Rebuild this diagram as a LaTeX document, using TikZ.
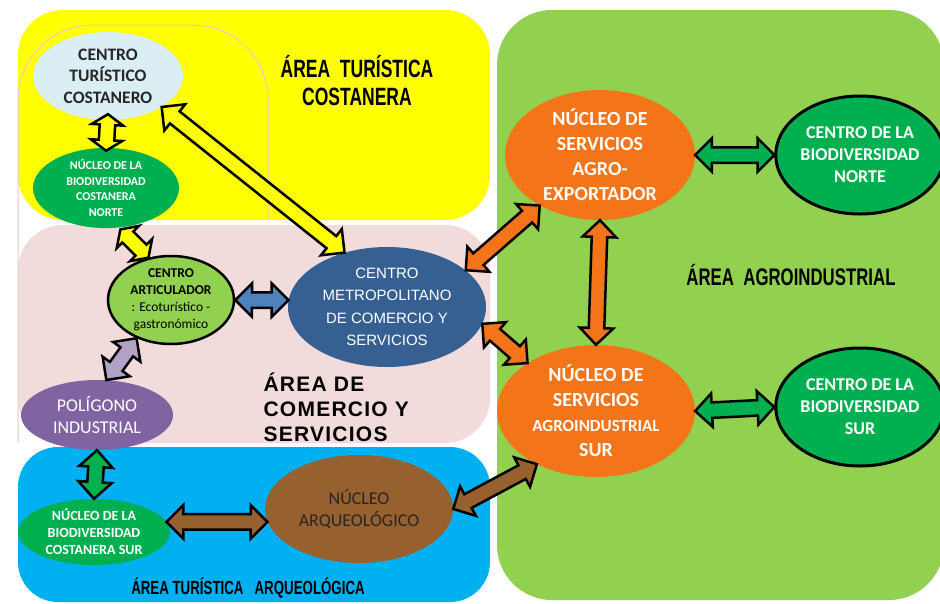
\documentclass[tikz,border=0pt]{standalone}
\usepackage{fontspec}
\setmainfont{Carlito}
\newfontfamily\arialfont{Liberation Sans}
\newfontfamily\areafont[FakeStretch=0.7]{Liberation Sans}
\newfontfamily\widefont[LetterSpace=6]{Liberation Sans}
\usetikzlibrary{shapes.geometric,shapes.arrows,calc}

\definecolor{areayellow}{HTML}{FFFF00}
\definecolor{areapink}{HTML}{F2DCDB}
\definecolor{areablue}{HTML}{00B0F0}
\definecolor{areagreen}{HTML}{92D050}
\definecolor{lineapink}{HTML}{EBC8C7}
\definecolor{palecyan}{HTML}{DAEEF3}
\definecolor{biogreen}{HTML}{00B050}
\definecolor{metroblue}{HTML}{376092}
\definecolor{polypurple}{HTML}{8064A2}
\definecolor{arqbrown}{HTML}{97602F}
\definecolor{agroorange}{HTML}{F4741A}
\definecolor{linkblue}{HTML}{4F81BD}
\definecolor{linklilac}{HTML}{B3A2C7}
\definecolor{darktext}{HTML}{262626}

% double block arrow from #3 to #4, filled with #2
\newcommand{\linkarrow}[4][]{%
  \path let \p1=(#3), \p2=(#4), \n1={atan2(\y2-\y1,\x2-\x1)},
    \n2={veclen(\x2-\x1,\y2-\y1)} in
    node[linkarrow, #1, fill=#2, minimum height=\n2, rotate=\n1] at ($(\p1)!0.5!(\p2)$) {};}

\begin{document}
\begin{tikzpicture}[x=1pt, y=-1pt]
\tikzset{place/.style={shape=ellipse, inner sep=0pt, align=center}}
\tikzset{arealabel/.style={align=center, text=black, font=\areafont\bfseries}}
\tikzset{linkarrow/.style={shape=double arrow, draw=black, line width=2.5pt, inner xsep=0pt,
  inner ysep=6.5pt, double arrow head extend=9pt, double arrow head indent=0pt,
  double arrow tip angle=90}}
\tikzset{shortlink/.style={double arrow head extend=8pt, double arrow tip angle=112}}
\useasboundingbox[fill=white] (0,0) rectangle (940,603);
%  areas
\fill[areapink, rounded corners=45] (18,225) rectangle (490,443);
\fill[areayellow, rounded corners=45] (18,10) rectangle (490,220);
\fill[areablue, rounded corners=40] (18,447) rectangle (490,602);
\fill[areagreen, rounded corners=55] (497,10) rectangle (944,600);
\draw[lineapink, line width=1pt, rounded corners=75] (18,443) -- (18,25) -- (268,25) -- (268,220);
\node (tcl) [arealabel, font=\areafont\bfseries\fontsize{25}{28}\selectfont] at (357,81) {ÁREA~~TURÍSTICA\\COSTANERA};
\node (agl) [arealabel, font=\areafont\bfseries\fontsize{24}{26}\selectfont] at (791,275) {ÁREA~~AGROINDUSTRIAL};
\node (arl) [arealabel, font=\areafont\bfseries\fontsize{19}{20}\selectfont] at (248,588) {ÁREA~TURÍSTICA~~~ARQUEOLÓGICA};
\node (csl) [align=left, anchor=west, text=black, font=\widefont\bfseries\fontsize{21}{25}\selectfont]
  at (260,407) {ÁREA DE\\COMERCIO Y\\SERVICIOS};
%  costanera
\node (ctc) [place, fill=palecyan, minimum width=150, minimum height=88, text=darktext,
  font=\bfseries\fontsize{17.5}{21.5}\selectfont] at (108,76) {CENTRO\\TURÍSTICO\\COSTANERO};
\node (nbn) [place, fill=biogreen, minimum width=146, minimum height=72, text=white,
  font=\bfseries\fontsize{12}{15.5}\selectfont] at (106,188) {NÚCLEO DE LA\\BIODIVERSIDAD\\COSTANERA\\NORTE};
%  comercio y servicios
\node (ca) [place, fill=areagreen, draw=black, line width=2.5pt, minimum width=126, minimum height=88,
  font=\fontsize{13.5}{17}\selectfont] at (171,300)
  {\textbf{CENTRO}\\\textbf{ARTICULADOR}\\: Ecoturístico -\\gastronómico};
\node (cmc) [place, fill=metroblue, minimum width=198, minimum height=120, text=white,
  font=\arialfont\fontsize{15}{22.5}\selectfont] at (387,307) {CENTRO\\METROPOLITANO\\DE COMERCIO Y\\SERVICIOS};
\node (pi) [place, fill=polypurple, minimum width=152, minimum height=70, text=white,
  font=\fontsize{18}{22}\selectfont] at (97,415) {POLÍGONO\\INDUSTRIAL};
%  arqueologica
\node (nbcs) [place, fill=biogreen, minimum width=152, minimum height=66, text=white,
  font=\bfseries\fontsize{14}{17}\selectfont] at (94,532) {NÚCLEO DE LA\\BIODIVERSIDAD\\COSTANERA SUR};
\node (na) [place, fill=arqbrown, minimum width=188, minimum height=108, text=darktext,
  font=\fontsize{18}{22}\selectfont] at (359,509) {NÚCLEO\\ARQUEOLÓGICO};
%  agroindustrial
\node (nsae) [place, fill=agroorange, minimum width=190, minimum height=128, text=white,
  font=\bfseries\fontsize{20}{25}\selectfont] at (600,155) {NÚCLEO DE\\SERVICIOS\\AGRO-\\EXPORTADOR};
\node (nsai) [place, fill=agroorange, minimum width=198, minimum height=132, text=white,
  font=\bfseries\fontsize{20}{25}\selectfont] at (596,411)
  {NÚCLEO DE\\SERVICIOS\\{\fontsize{17}{25}\selectfont AGROINDUSTRIAL}\\SUR};
\node (cbn) [place, fill=biogreen, draw=black, line width=3pt, minimum width=156, minimum height=118,
  text=white, font=\bfseries\fontsize{18}{22}\selectfont] at (860,155) {CENTRO DE LA\\BIODIVERSIDAD\\NORTE};
\node (cbs) [place, fill=biogreen, draw=black, line width=3pt, minimum width=156, minimum height=118,
  text=white, font=\bfseries\fontsize{18}{22}\selectfont] at (860,407) {CENTRO DE LA\\BIODIVERSIDAD\\SUR};
%  links
\linkarrow[shortlink]{areayellow}{$(ctc.south)+(0,-6)$}{$(nbn.north)+(0,3)$}
\linkarrow{areayellow}{ctc.-30}{cmc.128}
\linkarrow[shortlink]{areayellow}{$(nbn.-70)+(0,2)$}{ca.118}
\linkarrow{linkblue}{ca.east}{cmc.176}
\linkarrow{linklilac}{ca.228}{pi.75}
\linkarrow{biogreen}{pi.south}{nbcs.north}
\linkarrow{arqbrown}{nbcs.8}{na.188}
\linkarrow{arqbrown}{na.east}{nsai.222}
\linkarrow{agroorange}{cmc.25}{nsae.220}
\linkarrow{agroorange}{cmc.-10}{nsai.145}
\linkarrow{agroorange}{nsae.south}{nsai.north}
\linkarrow{biogreen}{nsae.east}{cbn.west}
\linkarrow{biogreen}{nsai.east}{cbs.west}
\end{tikzpicture}
\end{document}
